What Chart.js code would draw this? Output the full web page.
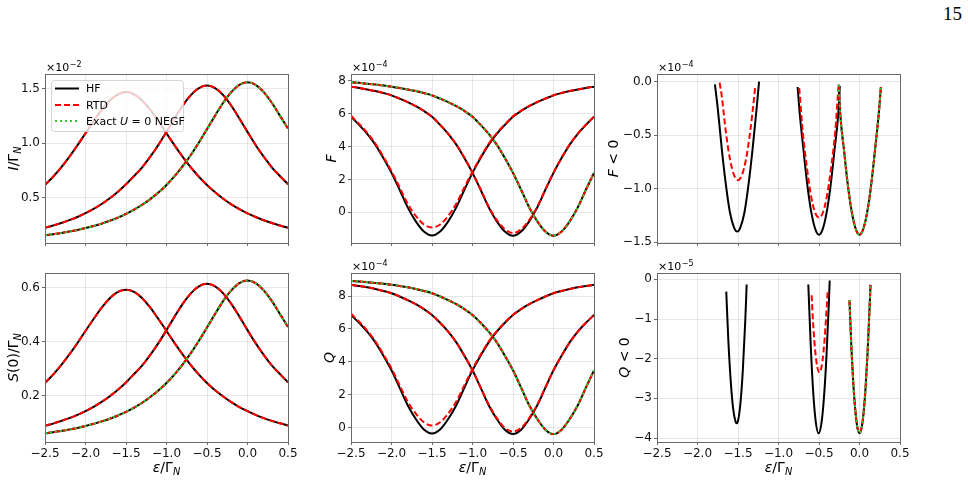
<!DOCTYPE html>
<html>
<head>
<meta charset="utf-8">
<script src="https://cdn.jsdelivr.net/npm/chart.js@4.4.1/dist/chart.umd.min.js"></script>
<style>
body{margin:0;background:#fff;}
#page{position:relative;width:968px;height:480px;overflow:hidden;background:#fff;}
#page canvas{position:absolute;}
#pg{position:absolute;right:6px;top:4px;font:19px "Liberation Serif",serif;line-height:19px;color:#000;}
</style>
</head>
<body>
<div id="page"><div id="pg">15</div></div>
<script>
// energy grid eps/Gamma_N
const eps = [-2.5,-2.4,-2.3,-2.2,-2.1,-2.0,-1.9,-1.8,-1.7,-1.6,-1.5,-1.4,-1.3,-1.2,-1.1,-1.0,-0.9,-0.8,-0.7,-0.6,-0.5,-0.4,-0.3,-0.2,-0.1,0.0,0.1,0.2,0.3,0.4,0.5];
const xTicks = [-2.5,-2.0,-1.5,-1.0,-0.5,0.0,0.5];

// current I/Gamma_N (x1e-2), curves A (peak -1.5), B (peak -0.5), C (U=0, peak 0)
const iA = [0.617,0.693,0.779,0.876,0.981,1.092,1.203,1.307,1.393,1.450,1.470,1.450,1.393,1.307,1.203,1.092,0.981,0.876,0.779,0.693,0.617,0.550,0.491,0.440,0.396,0.357,0.324,0.294,0.268,0.245,0.225];
const iB = [0.225,0.245,0.268,0.295,0.324,0.359,0.398,0.443,0.495,0.555,0.624,0.700,0.780,0.877,0.985,1.105,1.228,1.345,1.442,1.507,1.530,1.507,1.442,1.345,1.228,1.105,0.985,0.877,0.780,0.700,0.624];
const iC = [0.155,0.165,0.176,0.190,0.205,0.222,0.241,0.263,0.289,0.318,0.352,0.391,0.436,0.488,0.548,0.618,0.698,0.790,0.893,1.007,1.130,1.254,1.372,1.470,1.537,1.560,1.537,1.470,1.372,1.254,1.135];

// S(0)/Gamma_N
const sA = [0.248,0.279,0.314,0.353,0.395,0.440,0.484,0.526,0.561,0.584,0.592,0.584,0.561,0.526,0.484,0.440,0.395,0.353,0.314,0.279,0.248,0.221,0.198,0.177,0.159,0.144,0.130,0.118,0.108,0.099,0.091];
const sB = [0.090,0.098,0.108,0.118,0.130,0.144,0.160,0.178,0.199,0.223,0.250,0.281,0.313,0.352,0.395,0.443,0.493,0.540,0.579,0.605,0.614,0.605,0.579,0.540,0.493,0.443,0.395,0.352,0.313,0.281,0.250];
const sC = [0.062,0.066,0.071,0.076,0.082,0.089,0.097,0.106,0.116,0.128,0.141,0.157,0.175,0.196,0.220,0.248,0.280,0.317,0.358,0.404,0.453,0.503,0.551,0.590,0.617,0.626,0.617,0.590,0.551,0.503,0.455];

// F (x1e-4)
const fHfA = [5.82,5.32,4.78,4.12,3.30,2.40,1.37,0.30,-0.55,-1.17,-1.41,-1.17,-0.55,0.30,1.37,2.40,3.30,4.12,4.78,5.32,5.82,6.17,6.46,6.71,6.92,7.12,7.26,7.38,7.48,7.57,7.65];
const fRtdA = [5.88,5.38,4.84,4.19,3.38,2.50,1.52,0.52,-0.22,-0.74,-0.92,-0.74,-0.22,0.52,1.52,2.48,3.36,4.17,4.82,5.35,5.85,6.19,6.48,6.72,6.93,7.13,7.27,7.39,7.48,7.57,7.65];
const fHfB = [7.65,7.57,7.48,7.38,7.26,7.12,6.92,6.71,6.46,6.17,5.82,5.32,4.78,4.12,3.30,2.40,1.37,0.30,-0.55,-1.17,-1.43,-1.17,-0.55,0.30,1.37,2.40,3.30,4.12,4.78,5.32,5.82];
const fRtdB = [7.65,7.57,7.48,7.38,7.26,7.12,6.92,6.71,6.46,6.17,5.82,5.33,4.79,4.13,3.32,2.42,1.40,0.34,-0.47,-1.03,-1.27,-1.03,-0.47,0.34,1.40,2.42,3.32,4.13,4.79,5.33,5.82];
const fC = [7.92,7.88,7.83,7.78,7.72,7.65,7.57,7.48,7.38,7.26,7.12,6.92,6.71,6.46,6.17,5.82,5.32,4.78,4.12,3.30,2.40,1.37,0.30,-0.55,-1.17,-1.43,-1.17,-0.55,0.30,1.37,2.40];

// Q (x1e-4)
const qHfA = [6.84,6.37,5.83,5.18,4.37,3.48,2.43,1.36,0.52,-0.12,-0.36,-0.12,0.52,1.36,2.43,3.48,4.37,5.18,5.83,6.37,6.84,7.20,7.50,7.75,7.97,8.17,8.31,8.43,8.53,8.61,8.68];
const qRtdA = [6.92,6.44,5.90,5.25,4.45,3.59,2.58,1.58,0.85,0.32,0.12,0.32,0.85,1.58,2.58,3.56,4.43,5.23,5.87,6.40,6.86,7.21,7.50,7.75,7.97,8.17,8.31,8.43,8.53,8.61,8.68];
const qHfB = [8.68,8.61,8.53,8.43,8.31,8.17,7.97,7.75,7.50,7.20,6.84,6.37,5.83,5.18,4.37,3.48,2.43,1.36,0.52,-0.13,-0.39,-0.13,0.52,1.36,2.43,3.48,4.37,5.18,5.83,6.37,6.84];
const qRtdB = [8.68,8.61,8.53,8.43,8.31,8.17,7.97,7.75,7.50,7.20,6.84,6.37,5.83,5.18,4.37,3.49,2.45,1.40,0.58,-0.03,-0.24,-0.03,0.58,1.40,2.45,3.49,4.37,5.18,5.83,6.37,6.84];
const qC = [8.92,8.88,8.84,8.79,8.74,8.68,8.61,8.53,8.43,8.31,8.17,7.97,7.75,7.50,7.20,6.84,6.37,5.83,5.18,4.37,3.48,2.43,1.36,0.52,-0.13,-0.40,-0.13,0.52,1.36,2.43,3.48];

// F < 0 (x1e-4), own energy points
const fnHfAx = [-1.785,-1.75,-1.70,-1.65,-1.60,-1.55,-1.51,-1.47,-1.42,-1.37,-1.32,-1.27,-1.24];
const fnHfA = [-0.025,-0.25,-0.63,-0.96,-1.22,-1.36,-1.40,-1.36,-1.22,-0.96,-0.63,-0.25,0.0];
const fnRtdAx = [-1.727,-1.70,-1.65,-1.60,-1.55,-1.50,-1.45,-1.40,-1.35,-1.30,-1.289];
const fnRtdA = [-0.01,-0.14,-0.47,-0.72,-0.87,-0.92,-0.87,-0.72,-0.47,-0.14,-0.06];
const fnHfBx = [-0.764,-0.74,-0.69,-0.64,-0.59,-0.54,-0.50,-0.46,-0.41,-0.36,-0.31,-0.26,-0.243];
const fnHfB = [-0.05,-0.28,-0.65,-0.99,-1.24,-1.39,-1.43,-1.39,-1.24,-0.99,-0.65,-0.28,-0.04];
const fnRtdBx = [-0.744,-0.70,-0.65,-0.60,-0.55,-0.50,-0.45,-0.40,-0.35,-0.30,-0.26];
const fnRtdB = [-0.06,-0.47,-0.80,-1.06,-1.22,-1.27,-1.22,-1.06,-0.80,-0.47,-0.05];
const fnCx = [-0.256,-0.24,-0.19,-0.14,-0.09,-0.04,0.0,0.04,0.09,0.14,0.19,0.24,0.264];
const fnC = [-0.03,-0.28,-0.65,-0.99,-1.24,-1.39,-1.43,-1.39,-1.24,-0.99,-0.65,-0.28,-0.05];

// Q < 0 (x1e-5)
const qnHfAx = [-1.645,-1.62,-1.59,-1.56,-1.53,-1.517,-1.50,-1.47,-1.44,-1.41,-1.393];
const qnHfA = [-0.31,-1.51,-2.56,-3.26,-3.59,-3.63,-3.57,-3.13,-2.28,-1.03,-0.13];
const qnHfBx = [-0.632,-0.60,-0.57,-0.54,-0.505,-0.47,-0.44,-0.41,-0.38,-0.368];
const qnHfB = [-0.13,-1.76,-2.89,-3.59,-3.88,-3.63,-3.01,-2.03,-0.68,-0.03];
const qnRtdBx = [-0.591,-0.57,-0.545,-0.52,-0.495,-0.47,-0.445,-0.42,-0.393];
const qnRtdB = [-0.40,-1.20,-1.84,-2.22,-2.35,-2.22,-1.84,-1.20,-0.30];
const qnCx = [-0.124,-0.10,-0.075,-0.05,-0.025,0.0,0.025,0.05,0.075,0.10,0.125,0.136];
const qnC = [-0.52,-1.73,-2.67,-3.34,-3.75,-3.88,-3.75,-3.37,-2.73,-1.83,-0.68,-0.14];

const legendNames = ['HF', 'RTD', 'Exact U = 0 NEGF'];

// layout
const PW = 243, PH = 169;
const colLeft = [45, 351, 657], rowTop = [74, 273];
const PAD_L = 58, PAD_R = 12, PAD_T = 24;
const FONT = '"DejaVu Sans"';
const gridCol = 'rgba(0,0,0,0.09)', frameCol = '#6a6a6a';

const styles = {
  hf: {borderColor: '#000000', borderDash: [], order: 3},
  rtd: {borderColor: '#ff0000', borderDash: [6, 3], order: 2},
  exact: {borderColor: '#32cd32', borderDash: [2, 3], order: 1}
};

const GN = ['N', 1, 1];
const panels = [
  {c:0, r:0, min:0.085, max:1.636, ticks:[0.5,1.0,1.5], dec:1, exp:'\u22122', legend:true,
   ylab:[['I',1],['/\u0393',0],GN], yoff:32,
   sets:[['exact',eps,iC],['rtd',eps,iA],['rtd',eps,iB],['rtd',eps,iC],['hf',eps,iA],['hf',eps,iB],['hf',eps,iC]]},
  {c:1, r:0, min:-1.87, max:8.42, ticks:[0,2,4,6,8], dec:0, exp:'\u22124',
   ylab:[['F',1]], yoff:20,
   sets:[['exact',eps,fC],['rtd',eps,fRtdA],['rtd',eps,fRtdB],['rtd',eps,fC],['hf',eps,fHfA],['hf',eps,fHfB],['hf',eps,fC]]},
  {c:2, r:0, min:-1.507, max:0.071, ticks:[0,-0.5,-1.0,-1.5], dec:1, exp:'\u22124',
   ylab:[['F',1],[' < 0',0]], yoff:44,
   sets:[['exact',fnCx,fnC],['rtd',fnRtdAx,fnRtdA],['rtd',fnRtdBx,fnRtdB],['rtd',fnCx,fnC],['hf',fnHfAx,fnHfA],['hf',fnHfBx,fnHfB],['hf',fnCx,fnC]]},
  {c:0, r:1, min:0.03, max:0.654, ticks:[0.2,0.4,0.6], dec:1, exp:null,
   ylab:[['S',1],['(0)/\u0393',0],GN], yoff:32,
   sets:[['exact',eps,sC],['rtd',eps,sA],['rtd',eps,sB],['rtd',eps,sC],['hf',eps,sA],['hf',eps,sB],['hf',eps,sC]]},
  {c:1, r:1, min:-0.88, max:9.40, ticks:[0,2,4,6,8], dec:0, exp:'\u22124',
   ylab:[['Q',1]], yoff:22,
   sets:[['exact',eps,qC],['rtd',eps,qRtdA],['rtd',eps,qRtdB],['rtd',eps,qC],['hf',eps,qHfA],['hf',eps,qHfB],['hf',eps,qC]]},
  {c:2, r:1, min:-4.10, max:0.16, ticks:[0,-1,-2,-3,-4], dec:0, exp:'\u22125',
   ylab:[['Q',1],[' < 0',0]], yoff:33,
   sets:[['exact',qnCx,qnC],['rtd',qnRtdBx,qnRtdB],['rtd',qnCx,qnC],['hf',qnHfAx,qnHfA],['hf',qnHfBx,qnHfB],['hf',qnCx,qnC]]}
];
const xlab = [['\u03b5',1],['/\u0393',0],GN];

function fmt(v, dec) {
  return (v < 0 ? '\u2212' : '') + Math.abs(v).toFixed(dec);
}

// draw text made of parts [text, italic, subscript]
function rich(ctx, parts, size, x, y, rot, align) {
  ctx.save();
  ctx.translate(x, y);
  if (rot) ctx.rotate(-Math.PI / 2);
  const font = p => (p[1] ? 'italic ' : '') + (p[2] ? size * 0.7 : size) + 'px ' + FONT;
  let w = 0;
  const ws = parts.map(p => { ctx.font = font(p); const m = ctx.measureText(p[0]).width; w += m; return m; });
  let cx = align === 'left' ? 0 : -w / 2;
  ctx.fillStyle = '#000';
  ctx.textBaseline = 'alphabetic';
  ctx.textAlign = 'left';
  parts.forEach((p, i) => {
    ctx.font = font(p);
    ctx.fillText(p[0], cx, size * 0.36 + (p[2] ? size * 0.22 : 0));
    cx += ws[i];
  });
  ctx.restore();
}

function drawLegend(ctx, a) {
  const bx = a.left + 6, by = a.top + 6, bw = 132, bh = 51;
  ctx.save();
  ctx.beginPath();
  ctx.roundRect(bx + 0.5, by + 0.5, bw, bh, 3);
  ctx.fillStyle = 'rgba(255,255,255,0.8)';
  ctx.fill();
  ctx.strokeStyle = 'rgba(204,204,204,0.8)';
  ctx.lineWidth = 1;
  ctx.stroke();
  const keys = ['hf', 'rtd', 'exact'];
  const rows = [8.5, 25, 41];
  keys.forEach((k, i) => {
    const y = by + rows[i];
    ctx.beginPath();
    ctx.setLineDash(styles[k].borderDash);
    ctx.strokeStyle = styles[k].borderColor;
    ctx.lineWidth = 2;
    ctx.moveTo(bx + 4, y);
    ctx.lineTo(bx + 28, y);
    ctx.stroke();
  });
  ctx.setLineDash([]);
  rich(ctx, [[legendNames[0], 0]], 11, bx + 35, by + rows[0], false, 'left');
  rich(ctx, [[legendNames[1], 0]], 11, bx + 35, by + rows[1], false, 'left');
  rich(ctx, [['Exact ', 0], ['U', 1], [' = 0 NEGF', 0]], 11, bx + 35, by + rows[2], false, 'left');
  ctx.restore();
}

function decor(p) {
  return {
    id: 'decor',
    afterDatasetsDraw(chart) {
      if (p.legend) drawLegend(chart.ctx, chart.chartArea);
    },
    afterDraw(chart) {
      const a = chart.chartArea, ctx = chart.ctx;
      ctx.save();
      ctx.strokeStyle = frameCol;
      ctx.lineWidth = 1;
      ctx.strokeRect(a.left + 0.5, a.top + 0.5, a.right - a.left, a.bottom - a.top);
      if (p.exp) {
        ctx.fillStyle = '#000';
        ctx.textAlign = 'left';
        ctx.textBaseline = 'alphabetic';
        ctx.font = '11px ' + FONT;
        ctx.fillText('\u00d710', a.left + 1, a.top - 3);
        const w = ctx.measureText('\u00d710').width;
        ctx.font = '8px ' + FONT;
        ctx.fillText(p.exp, a.left + 1.5 + w, a.top - 7.5);
      }
      ctx.restore();
      rich(ctx, p.ylab, 14, a.left - p.yoff, (a.top + a.bottom) / 2, true);
      if (p.r === 1) rich(ctx, xlab, 14, (a.left + a.right) / 2, a.bottom + 25, false);
    }
  };
}

const page = document.getElementById('page');
panels.forEach(p => {
  const xh = p.r === 1 ? 40 : 12;
  const cv = document.createElement('canvas');
  cv.width = PAD_L + PW + PAD_R;
  cv.height = PAD_T + PH + xh;
  cv.style.left = (colLeft[p.c] - PAD_L) + 'px';
  cv.style.top = (rowTop[p.r] - PAD_T) + 'px';
  page.appendChild(cv);

  const datasets = p.sets.map(([k, xs, ys]) => Object.assign({
    data: xs.map((x, i) => ({x: x, y: ys[i]})),
    borderWidth: 2,
    pointRadius: 0,
    fill: false,
    cubicInterpolationMode: 'monotone'
  }, styles[k]));

  const tickFont = {family: FONT, size: 12};
  new Chart(cv, {
    type: 'line',
    data: {datasets: datasets},
    options: {
      responsive: false,
      animation: false,
      devicePixelRatio: 1,
      layout: {autoPadding: false, padding: {left: PAD_L - 45, right: PAD_R, top: PAD_T, bottom: 0}},
      plugins: {legend: {display: false}, tooltip: {enabled: false}},
      scales: {
        x: {
          type: 'linear', min: -2.5, max: 0.5,
          afterBuildTicks: s => { s.ticks = xTicks.map(v => ({value: v})); },
          afterFit: s => { s.height = xh; },
          grid: {color: gridCol, tickColor: frameCol, tickLength: 3},
          border: {display: false},
          ticks: {display: p.r === 1, font: tickFont, color: '#111', padding: 2, maxRotation: 0, autoSkip: false,
                  callback: v => fmt(v, 1)}
        },
        y: {
          type: 'linear', min: p.min, max: p.max,
          afterBuildTicks: s => { s.ticks = p.ticks.map(v => ({value: v})); },
          afterFit: s => { s.width = 45; },
          grid: {color: gridCol, tickColor: frameCol, tickLength: 3},
          border: {display: false},
          ticks: {font: tickFont, color: '#111', padding: 2, autoSkip: false,
                  callback: v => fmt(v, p.dec)}
        }
      }
    },
    plugins: [decor(p)]
  });
});
</script>
</body>
</html>
